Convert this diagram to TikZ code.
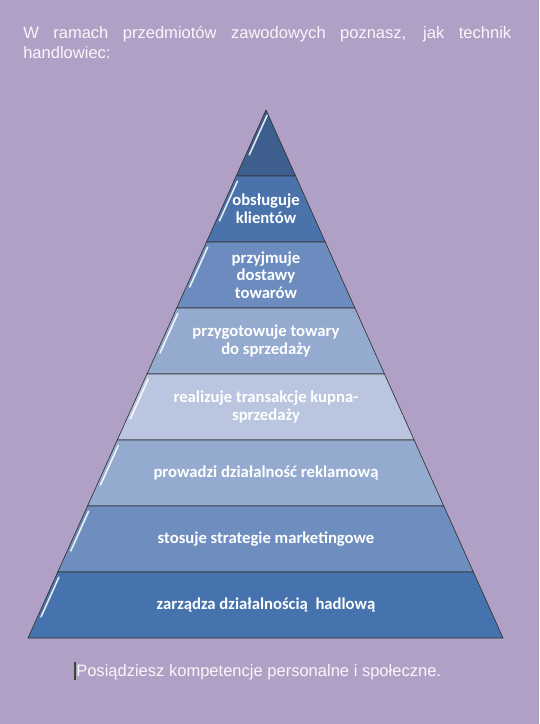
\documentclass[tikz,border=0pt]{standalone}
\usepackage{fontspec}
\setmainfont{Liberation Sans}
\newfontfamily\calfont{Carlito}
\usetikzlibrary{calc}
\definecolor{lavbg}{HTML}{B0A0C6}
\definecolor{pyrA}{HTML}{3E5F8E}
\definecolor{pyrB}{HTML}{4A73AC}
\definecolor{pyrC}{HTML}{6C8CBF}
\definecolor{pyrD}{HTML}{94AACF}
\definecolor{pyrE}{HTML}{BAC6DF}
\definecolor{pyrF}{HTML}{94AACF}
\definecolor{pyrG}{HTML}{6E8EBF}
\definecolor{pyrH}{HTML}{4673AD}
\definecolor{cursor}{HTML}{3A4A30}

\begin{document}
\begin{tikzpicture}[x=0.75pt,y=-0.75pt,
  layer/.style={draw=black!80, line width=0.5pt, line join=round},
  gloss/.style={white, line width=1.2pt, line cap=round, opacity=0.85},
  lbl/.style={font=\calfont\bfseries\fontsize{12.5}{13.2}\selectfont, text=white,
    align=center, inner sep=0pt},
  note/.style={font=\fontsize{12.4}{15}\selectfont, text=white!92!lavbg, inner sep=0pt}
]

% tlo
\fill[lavbg] (0,0) rectangle (539,724);
\useasboundingbox (0,0) rectangle (539,724);

\coordinate (apex) at (266,110);
\coordinate (bl) at (28,638);
\coordinate (br) at (503,638);

% tekst na gorze
\node[note, anchor=north west, text width=366pt, align=justify] (intro) at (23,26)
  {W ramach przedmiotów zawodowych poznasz, jak technik \mbox{handlowiec:}};

% warstwy piramidy
\foreach \k/\col in {1/pyrA,2/pyrB,3/pyrC,4/pyrD,5/pyrE,6/pyrF,7/pyrG,8/pyrH}{
  \pgfmathsetmacro{\ta}{(\k-1)/8}
  \pgfmathsetmacro{\tb}{\k/8}
  \filldraw[layer, fill=\col] ($(apex)!\ta!(bl)$) -- ($(apex)!\tb!(bl)$)
    -- ($(apex)!\tb!(br)$) -- ($(apex)!\ta!(br)$) -- cycle;
  \pgfmathsetmacro{\tc}{(\k-1)/8+0.01}
  \pgfmathsetmacro{\td}{(\k-1)/8+0.085}
  \draw[gloss] ($($(apex)!\tc!(bl)$)+(3.5,0)$) -- ($($(apex)!\td!(bl)$)+(3.5,0)$);
}

% napisy w warstwach
\node[lbl] (obsluga) at (266,209) {obsługuje\\klientów};
\node[lbl] (dostawy) at (266,275) {przyjmuje\\dostawy\\towarów};
\node[lbl] (przygotowanie) at (266,341) {przygotowuje towary\\do sprzedaży};
\node[lbl] (transakcje) at (266,407) {realizuje transakcje kupna-\\sprzedaży};
\node[lbl] (reklama) at (266,473) {prowadzi działalność reklamową};
\node[lbl] (marketing) at (266,539) {stosuje strategie marketingowe};
\node[lbl] (zarzadzanie) at (266,605) {zarządza działalnością\ \ hadlową};

% tekst na dole
\node[note, anchor=west] (outro) at (76,672)
  {Posiądziesz kompetencje personalne i społeczne.};
\fill[cursor] (73.5,662) rectangle (75.5,680);

\end{tikzpicture}
\end{document}
